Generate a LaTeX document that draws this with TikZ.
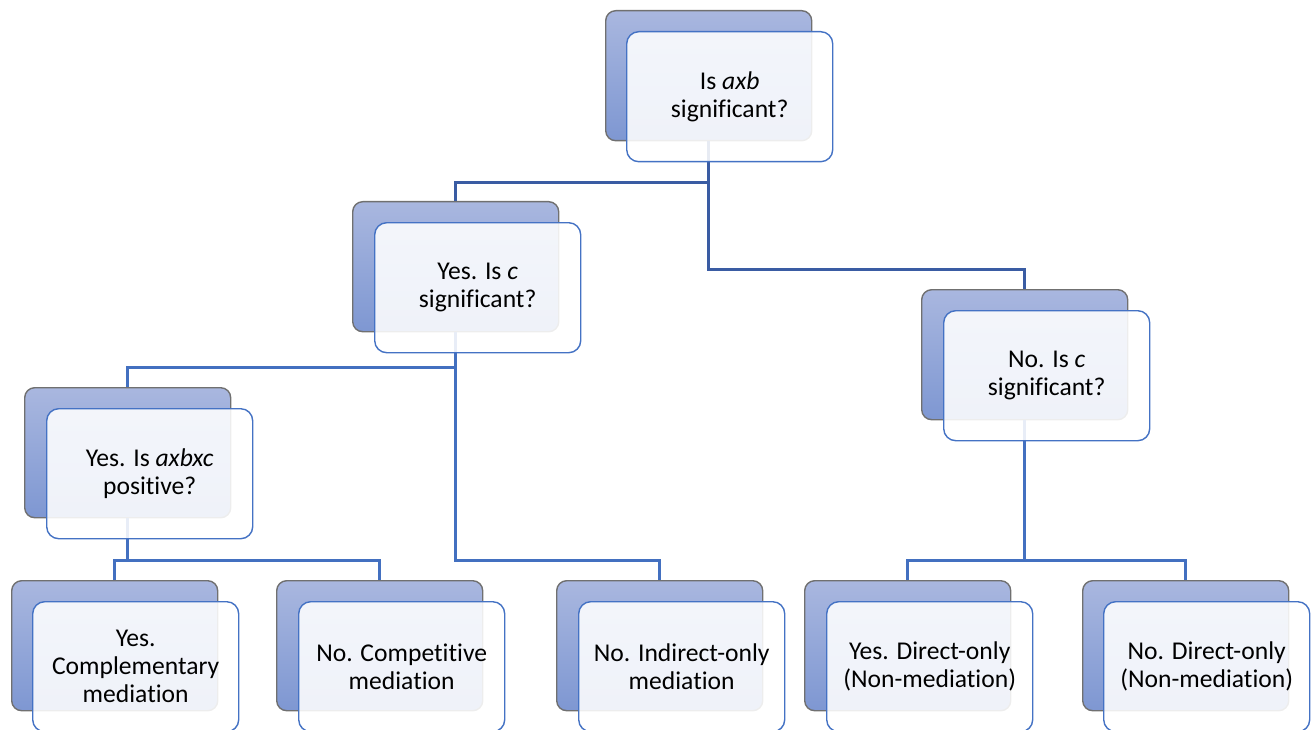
\documentclass[tikz,border=0pt]{standalone}
\usepackage{fontspec}
\setmainfont{Carlito}[Ligatures=NoCommon]
\definecolor{backtop}{HTML}{A9B7DF}
\definecolor{backbot}{HTML}{7E97D2}
\definecolor{backedge}{HTML}{707070}
\definecolor{frontedge}{HTML}{4472C4}
\definecolor{linedark}{HTML}{3A5CA3}
\definecolor{linemid}{HTML}{4370C0}
\begin{document}
\begin{tikzpicture}[x=1pt,y=-1pt,
  backbox/.style={draw=backedge,line width=1.4pt,rounded corners=10pt,
    top color=backtop,bottom color=backbot,minimum width=206pt,minimum height=130pt,
    anchor=north west,inner sep=0pt},
  frontbox/.style={draw=frontedge,line width=1.4pt,rounded corners=12pt,
    fill=white,fill opacity=0.88,text opacity=1,draw opacity=1,
    minimum width=206pt,minimum height=130pt,anchor=north west,inner sep=0pt,
    align=center,font=\fontsize{25.6}{28}\selectfont},
  conn/.style={line width=2.9pt,linemid},
  conntop/.style={line width=2.9pt,linedark}]
\useasboundingbox (0,0) rectangle (1311,730);
% back boxes
\node[backbox] (tb) at (605,10) {};
\node[backbox] (lb) at (352,201) {};
\node[backbox] (rb) at (921,289) {};
\node[backbox] (qb) at (24,387) {};
\node[backbox] (cb) at (11,580) {};
\node[backbox] (pb) at (276,580) {};
\node[backbox] (ib) at (556,580) {};
\node[backbox] (db) at (804,580) {};
\node[backbox] (nb) at (1082,580) {};
% connectors
\draw[conntop] (tb.south) -- ++(0,41) -| (lb.north);
\draw[conntop] (tb.south) -- ++(0,128) -| (rb.north);
\draw[conn] (lb.south) -- ++(0,35) -| (qb.north);
\draw[conn] (lb.south) -- ++(0,228) -| (ib.north);
\draw[conn] (qb.south) -- ++(0,42) coordinate (k1);
\draw[conn] (k1) -| (cb.north);
\draw[conn] (k1) -| (pb.north);
\draw[conn] (rb.south) -- ++(0,140) coordinate (k2);
\draw[conn] (k2) -| (db.north);
\draw[conn] (k2) -| (nb.north);
% front boxes
\node[frontbox] (tf) at (605+21,10+21) {Is \textit{axb}\\significant?};
\node[frontbox] (lf) at (352+22,201+21) {Yes. Is \textit{c}\\significant?};
\node[frontbox] (rf) at (921+22,289+21) {No. Is \textit{c}\\significant?};
\node[frontbox] (qf) at (24+22,387+21) {Yes. Is \textit{axbxc}\\positive?};
\node[frontbox] (cf) at (11+21,580+21) {Yes.\\Complementary\\mediation};
\node[frontbox] (pf) at (276+22,580+21) {No. Competitive\\mediation};
\node[frontbox] (if) at (556+22,580+21) {No. Indirect-only\\mediation};
\node[frontbox] (df) at (804+22,580+21) {Yes. Direct-only\\(Non-mediation)};
\node[frontbox] (nf) at (1082+21,580+21) {No. Direct-only\\(Non-mediation)};
\end{tikzpicture}
\end{document}
